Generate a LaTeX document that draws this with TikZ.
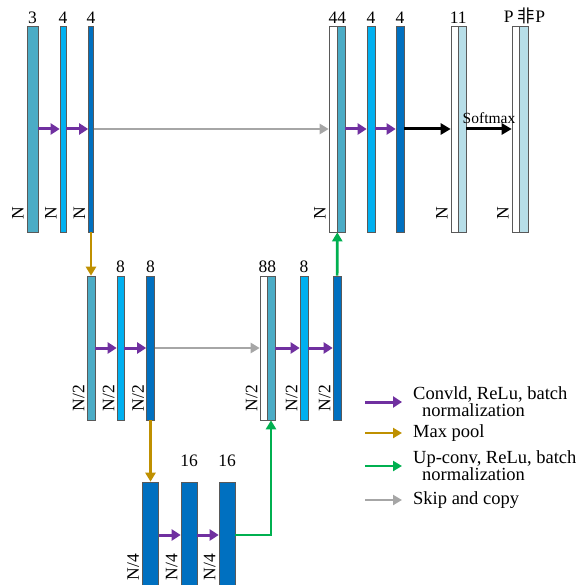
\documentclass[tikz,border=0pt]{standalone}
\usepackage{fontspec}
\setmainfont{Liberation Serif}
\newfontfamily\cjk{Noto Sans CJK SC}
\usetikzlibrary{arrows.meta,positioning}
\definecolor{cTeal}{HTML}{4BACC6}
\definecolor{cLight}{HTML}{00B0F0}
\definecolor{cDark}{HTML}{0070C0}
\definecolor{cPale}{HTML}{B7DEE8}
\definecolor{cPurple}{HTML}{7030A0}
\definecolor{cGold}{HTML}{BF9000}
\definecolor{cGreen}{HTML}{00B050}
\definecolor{cGray}{HTML}{A6A6A6}
\tikzset{
  bar/.style={draw=black!65, line width=0.6pt, fill=#1, inner sep=0pt},
  toprow/.style={minimum height=206pt},
  midrow/.style={minimum height=144pt},
  lowrow/.style={minimum height=106pt},
  num/.style={inner sep=0pt, font=\fontsize{17.5}{17.5}\selectfont},
  dim/.style={rotate=90, anchor=south west, inner sep=0pt, font=\fontsize{17.5}{17.5}\selectfont},
  convarr/.style={draw=cPurple, line width=3pt, -{Triangle[length=9pt,width=11pt]}},
  poolarr/.style={draw=cGold, line width=2.6pt, -{Triangle[length=9pt,width=10pt]}},
  uparr/.style={draw=cGreen, line width=2.6pt, -{Triangle[length=9pt,width=10pt]}},
  skiparr/.style={draw=cGray, line width=2.6pt, -{Triangle[length=9pt,width=10pt]}},
  outarr/.style={draw=black, line width=3pt, -{Triangle[length=10pt,width=11pt]}},
  legtext/.style={anchor=west, align=left, inner xsep=11pt, inner ysep=0pt,
    font=\fontsize{18.5}{17}\selectfont}
}
\begin{document}
\begin{tikzpicture}[x=1pt, y=-1pt]
  \useasboundingbox (0,0) rectangle (579,585);
  \clip (0,0) rectangle (579,585);
  % encoder, level 1
  \node[bar=cTeal, toprow, minimum width=11pt] (a1) at (32.5,129) {};
  \node[bar=cLight, toprow, minimum width=6pt] (a2) at (63,129) {};
  \node[bar=cDark, toprow, minimum width=5pt] (a3) at (91,129) {};
  % decoder, level 1
  \node[bar=white, toprow, minimum width=8pt] (b1w) at (333,129) {};
  \node[bar=cTeal, toprow, minimum width=8pt, right=-0.6pt of b1w] (b1) {};
  \node[bar=cLight, toprow, minimum width=8pt] (b2) at (371,129) {};
  \node[bar=cDark, toprow, minimum width=8pt] (b3) at (400,129) {};
  \node[bar=white, toprow, minimum width=7pt] (c1w) at (454.5,129) {};
  \node[bar=cPale, toprow, minimum width=8pt, right=-0.6pt of c1w] (c1) {};
  \node[bar=white, toprow, minimum width=7pt] (d1w) at (515.5,129) {};
  \node[bar=cPale, toprow, minimum width=9pt, right=-0.6pt of d1w] (d1) {};
  % level 2
  \node[bar=cTeal, midrow, minimum width=8pt] (m1) at (91,348) {};
  \node[bar=cLight, midrow, minimum width=7pt] (m2) at (120.5,348) {};
  \node[bar=cDark, midrow, minimum width=8pt] (m3) at (150.5,348) {};
  \node[bar=white, midrow, minimum width=7pt] (n1w) at (263.5,348) {};
  \node[bar=cTeal, midrow, minimum width=8pt, right=-0.6pt of n1w] (n1) {};
  \node[bar=cLight, midrow, minimum width=8pt] (n2) at (304,348) {};
  \node[bar=cDark, midrow, minimum width=8pt] (n3) at (337,348) {};
  % level 3
  \node[bar=cDark, lowrow, minimum width=16pt] (e1) at (150.5,535) {};
  \node[bar=cDark, lowrow, minimum width=16pt] (e2) at (189,535) {};
  \node[bar=cDark, lowrow, minimum width=16pt] (e3) at (227,535) {};

  \node[num, above=2pt of a1] (la1) {3};
  \node[num, above=2pt of a2] (la2) {4};
  \node[num, above=2pt of a3] (la3) {4};
  \node[num, above=2pt of b1w.north east] (lb1) {44};
  \node[num, above=2pt of b2] (lb2) {4};
  \node[num, above=2pt of b3] (lb3) {4};
  \node[num, above=2pt of c1w.north east] (lc1) {11};
  \node[num, above=2pt of d1, xshift=1pt] (ld1) {P {\cjk 非}P};
  \node[num, above=3pt of m2] (lm2) {8};
  \node[num, above=3pt of m3] (lm3) {8};
  \node[num, above=3pt of n1w.north east] (ln1) {88};
  \node[num, above=3pt of n2] (ln2) {8};
  \node[num, above=15pt of e2] (le2) {16};
  \node[num, above=15pt of e3] (le3) {16};

  \foreach \b in {a1,a2,a3,b1w,c1w,d1w}
    \node[dim] (N\b) at ([shift={(-3pt,13pt)}]\b.south west) {N};
  \foreach \b in {m1,m2,m3,n1w,n2,n3}
    \node[dim] (N\b) at ([shift={(-2pt,9pt)}]\b.south west) {N/2};
  \foreach \b in {e1,e2,e3}
    \node[dim] (N\b) at ([shift={(-3pt,8pt)}]\b.south west) {N/4};

  \draw[convarr] (a1) -- (a2);
  \draw[convarr] (a2) -- (a3);
  \draw[convarr] (b1) -- (b2);
  \draw[convarr] (b2) -- (b3);
  \draw[convarr] (m1) -- (m2);
  \draw[convarr] (m2) -- (m3);
  \draw[convarr] (n1) -- (n2);
  \draw[convarr] (n2) -- (n3);
  \draw[convarr] (e1) -- (e2);
  \draw[convarr] (e2) -- (e3);
  \draw[skiparr] (a3) -- (b1w);
  \draw[skiparr] (m3) -- (n1w);
  \draw[poolarr] (a3) -- (m1);
  \draw[poolarr] (m3) -- (e1);
  \draw[uparr] (e3) -| (n1);
  \draw[uparr] (n3) -- (b1w.south east);
  \draw[outarr] (b3) -- (c1w);
  \draw[outarr] (c1) -- (d1w) node[midway, above=4pt, inner sep=0pt,
    font=\fontsize{15.5}{15.5}\selectfont] (sm) {Softmax};

  \foreach \y/\s/\t [count=\i] in {
      402/convarr/{Convld, ReLu, batch\\\hspace*{9pt}normalization},
      433/poolarr/{Max pool},
      466/uparr/{Up-conv, ReLu, batch\\\hspace*{9pt}normalization},
      500/skiparr/{Skip and copy}}{
    \coordinate (k\i) at (365,\y);
    \node[legtext] (t\i) at (402,\y) {\t};
    \draw[\s] (k\i) -- (t\i.west);
  }
\end{tikzpicture}
\end{document}
